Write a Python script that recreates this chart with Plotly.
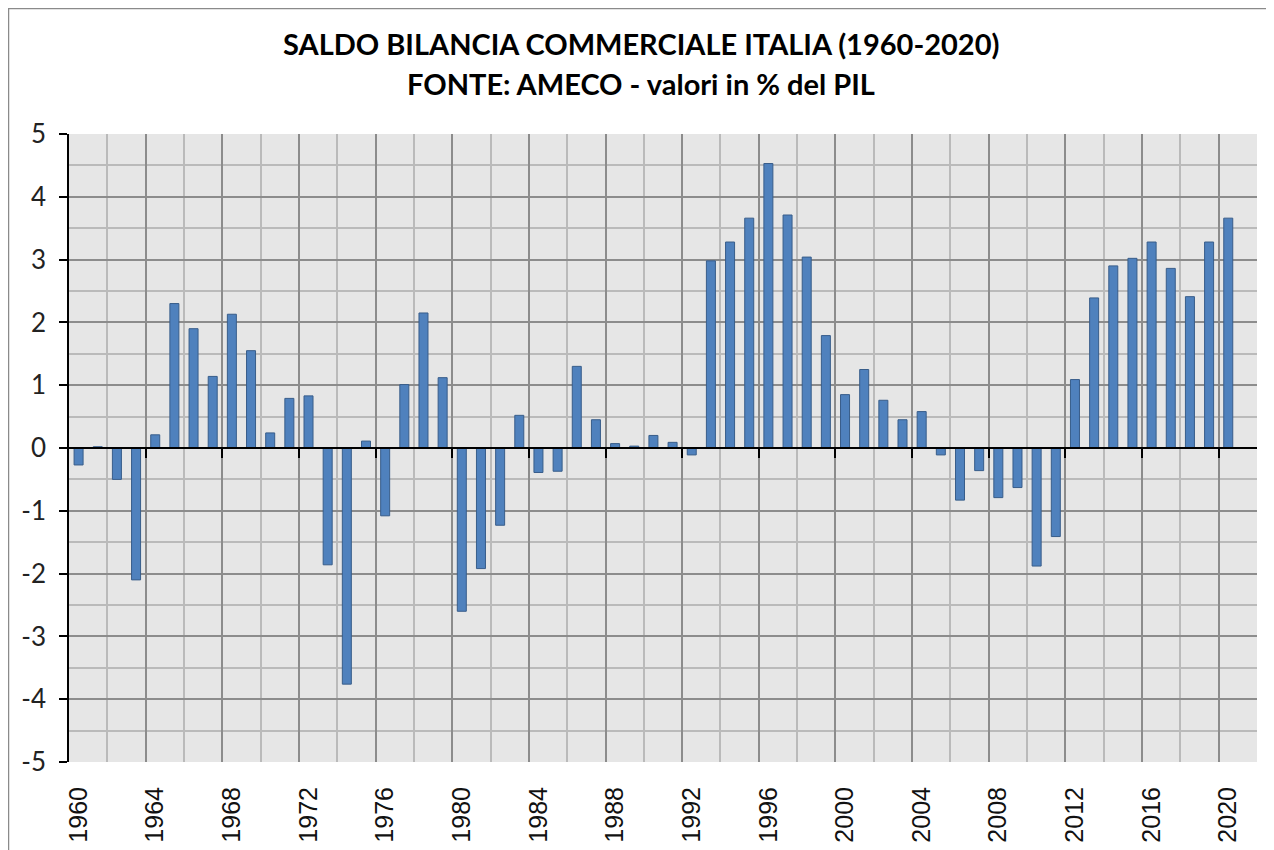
import plotly.graph_objects as go

# ---- data ----
years = list(range(1960, 2021))
saldo = [
    -0.27, 0.02, -0.50, -2.10, 0.21, 2.30, 1.90, 1.14, 2.13, 1.55,
    0.24, 0.79, 0.83, -1.86, -3.76, 0.11, -1.08, 1.01, 2.15, 1.12,
    -2.60, -1.92, -1.23, 0.52, -0.39, -0.37, 1.30, 0.45, 0.07, 0.03,
    0.20, 0.09, -0.11, 2.98, 3.28, 3.66, 4.53, 3.71, 3.04, 1.79,
    0.85, 1.25, 0.76, 0.45, 0.58, -0.11, -0.83, -0.36, -0.79, -0.63,
    -1.88, -1.41, 1.09, 2.39, 2.90, 3.02, 3.28, 2.86, 2.41, 3.28,
    3.66,
]
label_years = list(range(1960, 2021, 4))
label_text = [str(y) for y in label_years]
y_ticks = list(range(-5, 6))
y_tick_text = [str(v) for v in y_ticks]

title_line1 = "SALDO BILANCIA COMMERCIALE ITALIA (1960-2020)"
title_line2 = "FONTE: AMECO - valori in % del PIL"

# ---- figure (page body has an 8px margin) ----
OFF = 8
W, H = 1274 - OFF, 850 - OFF
ML, MR, MT, MB = 69 - OFF, 17, 134 - OFF, 88
PW = W - ML - MR
PH = H - MT - MB

x_lo, x_hi = 1959.5, 2021.5
major_bounds = [x_lo + 4 * k for k in range(1, 16)]
minor_bounds = [x_lo + 2 + 4 * k for k in range(0, 16)]

MAJOR_GRID = "#8C8C8C"
MINOR_GRID = "#BABABA"

fig = go.Figure()
fig.add_trace(go.Bar(
    x=years, y=saldo, width=0.47,
    marker=dict(color="#4F81BD", line=dict(color="#385D8A", width=1)),
    showlegend=False,
))
fig.add_trace(go.Scatter(x=[], y=[], xaxis="x2", showlegend=False, hoverinfo="skip"))

fig.update_layout(
    width=W, height=H,
    margin=dict(l=ML, r=MR, t=MT, b=MB, autoexpand=False),
    paper_bgcolor="white",
    plot_bgcolor="#E6E6E6",
    showlegend=False,
    xaxis=dict(
        range=[x_lo, x_hi], automargin=False,
        tickmode="array", tickvals=label_years, ticktext=label_text,
        tickangle=-90,
        tickfont=dict(family="Liberation Sans, Arial", size=25, color="#111111"),
        showgrid=False, zeroline=False, ticks="", showline=False,
        ticklabelstandoff=19,
    ),
    xaxis2=dict(
        overlaying="x", anchor="free", position=0.5, side="bottom",
        range=[x_lo, x_hi], automargin=False,
        tickmode="array", tickvals=major_bounds,
        showticklabels=False,
        showgrid=True, gridcolor=MAJOR_GRID, gridwidth=1.5,
        ticks="outside", ticklen=9, tickcolor="black", tickwidth=1.5,
        showline=True, linecolor="black", linewidth=1.5,
        zeroline=False,
        minor=dict(tickmode="array", tickvals=minor_bounds, showgrid=True,
                   gridcolor=MINOR_GRID, gridwidth=1.5, ticks=""),
    ),
    yaxis=dict(
        range=[-5, 5], automargin=False,
        tickmode="array", tickvals=y_ticks, ticktext=y_tick_text,
        tickfont=dict(family="Lato, Carlito, sans-serif", size=26, color="#222222"),
        showgrid=True, gridcolor=MAJOR_GRID, gridwidth=1.5,
        minor=dict(dtick=0.5, showgrid=True, gridcolor=MINOR_GRID, gridwidth=1.5, ticks=""),
        ticks="outside", ticklen=8, tickcolor="black", tickwidth=1.5,
        showline=True, linecolor="black", linewidth=1.5,
        zeroline=False,
        ticklabelstandoff=8,
    ),
)

# Title (two centred lines); positions given in page pixels
tx = (641 - OFF - ML) / PW
for txt, ypx in [(title_line1, 43), (title_line2, 84)]:
    fig.add_annotation(
        text="<b>%s</b>" % txt, xref="paper", yref="paper",
        x=tx, y=1 + (MT - (ypx - OFF)) / PH, xanchor="center", yanchor="middle",
        showarrow=False,
        font=dict(family="Lato, Carlito, sans-serif", size=29, color="black"),
    )

# outer chart border
fig.add_shape(
    type="rect", xref="paper", yref="paper",
    x0=(0.5 - ML) / PW, x1=(W + 10 - ML) / PW,
    y0=-(MB + 10) / PH, y1=1 + (MT - 0.5) / PH,
    line=dict(color="#8A8A8A", width=1.5), fillcolor="rgba(0,0,0,0)", layer="below",
)

fig.write_html("out.html")
